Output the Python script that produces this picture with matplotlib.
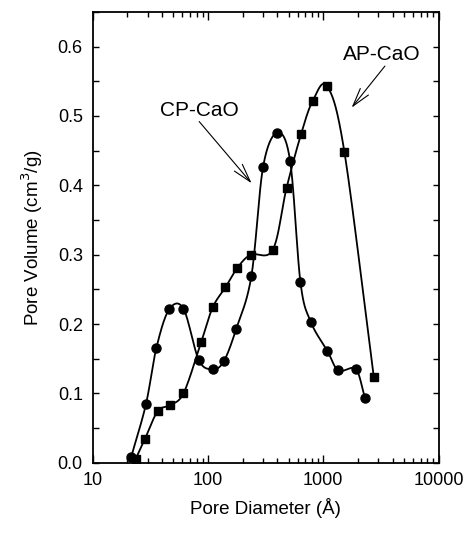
import numpy as np
import matplotlib
matplotlib.use("Agg")
import matplotlib.pyplot as plt
from matplotlib.ticker import FixedLocator, LogLocator, NullFormatter, MultipleLocator, FormatStrFormatter

# CP-CaO (circles)
cp_diam = [21.6, 29.0, 35.8, 46.1, 61.4, 83.4, 110, 137, 176, 238, 301, 400, 516, 634, 779, 1086, 1353, 1910, 2287]
cp_vol = [0.008, 0.084, 0.166, 0.221, 0.222, 0.148, 0.135, 0.146, 0.193, 0.269, 0.427, 0.476, 0.435, 0.260, 0.203, 0.161, 0.133, 0.135, 0.094]

# AP-CaO (squares)
ap_diam = [23.6, 28.4, 36.6, 46.5, 61.4, 87.4, 110, 142, 180, 235, 365, 480, 642, 811, 1079, 1524, 2737]
ap_vol = [0.005, 0.034, 0.074, 0.083, 0.100, 0.174, 0.224, 0.253, 0.281, 0.300, 0.307, 0.396, 0.474, 0.522, 0.543, 0.448, 0.124]

x_ticks = [10, 100, 1000, 10000]
x_tick_labels = ["10", "100", "1000", "10000"]
y_ticks = [0.0, 0.1, 0.2, 0.3, 0.4, 0.5, 0.6]


def smooth(xs, ys, n=20):
    """Catmull-Rom curve through the points in (log x, y) space."""
    lx = np.log10(np.asarray(xs, float))
    y = np.asarray(ys, float)
    P = np.column_stack([lx, y])
    P = np.vstack([2 * P[0] - P[1], P, 2 * P[-1] - P[-2]])
    out = []
    t = np.linspace(0, 1, n, endpoint=False)[:, None]
    for i in range(1, len(P) - 2):
        p0, p1, p2, p3 = P[i - 1], P[i], P[i + 1], P[i + 2]
        seg = 0.5 * ((2 * p1) + (-p0 + p2) * t + (2 * p0 - 5 * p1 + 4 * p2 - p3) * t ** 2
                     + (-p0 + 3 * p1 - 3 * p2 + p3) * t ** 3)
        out.append(seg)
    out.append(P[-2][None, :])
    S = np.vstack(out)
    return 10 ** S[:, 0], S[:, 1]


plt.rcParams['font.family'] = ['Liberation Sans', 'DejaVu Sans']

fig = plt.figure(figsize=(4.65, 5.42), dpi=100)
ax = fig.add_axes([0.199, 0.1463, 0.7444, 0.8316])

sx, sy = smooth(cp_diam, cp_vol)
ax.plot(sx, sy, color='black', lw=1.3)
ax.plot(cp_diam, cp_vol, 'o', color='black', ms=6.5, ls='none')

sx, sy = smooth(ap_diam, ap_vol)
ax.plot(sx, sy, color='black', lw=1.3)
ax.plot(ap_diam, ap_vol, 's', color='black', ms=5.5, ls='none')

ax.set_xscale('log')
ax.set_xlim(10, 10000)
ax.set_ylim(0, 0.65)
ax.xaxis.set_major_locator(FixedLocator(x_ticks))
ax.set_xticklabels(x_tick_labels)
ax.xaxis.set_minor_locator(LogLocator(base=10, subs=np.arange(2, 10)))
ax.xaxis.set_minor_formatter(NullFormatter())
ax.yaxis.set_major_locator(FixedLocator(y_ticks))
ax.yaxis.set_major_formatter(FormatStrFormatter('%.1f'))
ax.yaxis.set_minor_locator(MultipleLocator(0.05))

ax.tick_params(which='both', direction='in', top=True, right=True, labelsize=13, width=1.0, pad=7)
ax.tick_params(axis='x', which='major', length=6)
ax.tick_params(axis='x', which='minor', length=3.5)
ax.tick_params(axis='y', which='both', length=4)
for s in ax.spines.values():
    s.set_linewidth(1.3)

ax.set_xlabel('Pore Diameter (Å)', fontsize=13.5, labelpad=6)
ax.set_ylabel('Pore Volume (cm$^3$/g)', fontsize=13.5, labelpad=9)

arrow_style = dict(arrowstyle='->, head_length=0.6, head_width=0.17', color='black', lw=0.8,
                   shrinkA=0, shrinkB=0, mutation_scale=22)

ax.text(3200, 0.589, 'AP-CaO', fontsize=15, ha='center', va='center')
ax.annotate('', xy=(1760, 0.512), xytext=(3420, 0.572), arrowprops=arrow_style)

ax.text(85, 0.5075, 'CP-CaO', fontsize=15, ha='center', va='center')
ax.annotate('', xy=(239, 0.403), xytext=(84, 0.492), arrowprops=arrow_style)

fig.savefig('out.png', dpi=100)
